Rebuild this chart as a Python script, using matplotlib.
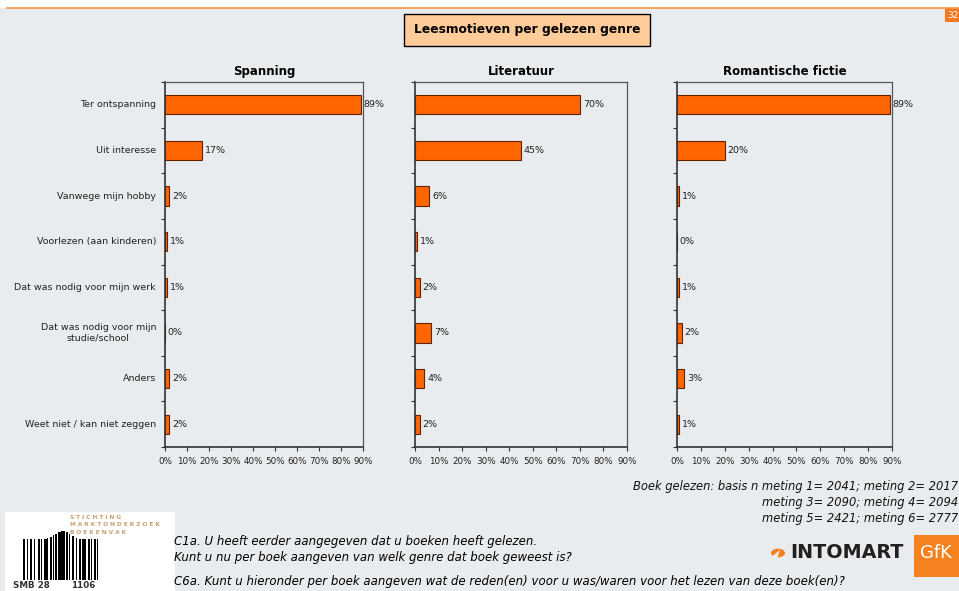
import numpy as np
import matplotlib
matplotlib.use("Agg")
import matplotlib.pyplot as plt
from matplotlib.patches import Rectangle, Circle, Polygon

# reasons for reading, per genre (percentages)
reasons = ["Ter ontspanning", "Uit interesse", "Vanwege mijn hobby",
           "Voorlezen (aan kinderen)", "Dat was nodig voor mijn werk",
           "Dat was nodig voor mijn\nstudie/school", "Anders",
           "Weet niet / kan niet zeggen"]
genres = ["Spanning", "Literatuur", "Romantische fictie"]
spanning = [89, 17, 2, 1, 1, 0, 2, 2]
literatuur = [70, 45, 6, 1, 2, 7, 4, 2]
romantisch = [89, 20, 1, 0, 1, 2, 3, 1]
xticks = [0, 10, 20, 30, 40, 50, 60, 70, 80, 90]

BG = "#E9ECEE"
ORANGE = "#FF6600"

W, H = 959, 591
fig = plt.figure(figsize=(W / 100, H / 100), dpi=100)
fig.patch.set_facecolor(BG)

def fx(px):
    return px / W

def fy(py):
    return 1 - py / H

# white strip with orange rule on top
fig.patches.append(Rectangle((0, fy(8)), 1, 8 / H, transform=fig.transFigure,
                             facecolor="white", edgecolor="none"))
fig.lines.append(plt.Line2D([fx(7), 1], [fy(8), fy(8)], transform=fig.transFigure,
                            color="#F79646", lw=1.2))
fig.patches.append(Rectangle((fx(945), fy(22)), fx(14), 14 / H, transform=fig.transFigure,
                             facecolor="#F47920", edgecolor="none"))
fig.text(fx(947), fy(15), "32", color="white", fontsize=6.5, va="center", ha="left")

# title box
fig.text(fx(527), fy(30), "Leesmotieven per gelezen genre", ha="center", va="center",
         fontsize=8.8, fontweight="bold",
         bbox=dict(boxstyle="square,pad=0.8", facecolor="#FFCC99", edgecolor="black", lw=1))

panels = [(165, 363, spanning), (415, 627, literatuur), (677, 892, romantisch)]
y = np.arange(len(reasons))

for i, (x0, x1, vals) in enumerate(panels):
    ax = fig.add_axes([fx(x0), fy(447), fx(x1 - x0), (447 - 82) / H])
    ax.set_facecolor(BG)
    ax.barh(y, vals, height=0.42, color=ORANGE, edgecolor="#662200", lw=0.8)
    ax.set_xlim(0, 90)
    ax.set_ylim(len(reasons) - 0.52, -0.48)
    ax.set_xticks(xticks)
    ax.set_xticklabels([f"{t}%" for t in xticks], fontsize=6.3, color="#222222")
    ax.set_yticks(np.arange(len(reasons) + 1) - 0.5)
    ax.set_yticklabels([])
    ax.tick_params(axis="y", length=3, width=0.8, color="#333333", direction="out")
    ax.tick_params(axis="x", length=3, width=0.8, color="#333333", direction="out", pad=4)
    for s in ["left", "bottom"]:
        ax.spines[s].set_color("#333333")
        ax.spines[s].set_linewidth(1.2)
    for s in ["top", "right"]:
        ax.spines[s].set_color("#555555")
        ax.spines[s].set_linewidth(0.9)
    for yi, v in zip(y, vals):
        ax.text(v + 1.2, yi, f"{v}%", va="center", ha="left", fontsize=6.8, color="#222222")
    ax.set_title(genres[i], fontsize=8.5, fontweight="bold", pad=5)
    if i == 0:
        for yi, lab in zip(y, reasons):
            ax.text(-0.045, yi, lab, transform=ax.get_yaxis_transform(),
                    ha="right", va="center", fontsize=6.8, color="#222222",
                    multialignment="center")

# sample sizes
foot = ("Boek gelezen: basis n meting 1= 2041; meting 2= 2017\n"
        "meting 3= 2090; meting 4= 2094\n"
        "meting 5= 2421; meting 6= 2777")
fig.text(fx(958), fy(480), foot, ha="right", va="top", fontsize=8.3,
         style="italic", color="#111111", linespacing=1.28)

# question texts
fig.text(fx(174), fy(542), "C1a. U heeft eerder aangegeven dat u boeken heeft gelezen.",
         fontsize=8.5, style="italic", va="center")
fig.text(fx(174), fy(558), "Kunt u nu per boek aangeven van welk genre dat boek geweest is?",
         fontsize=8.5, style="italic", va="center")
fig.text(fx(174), fy(582),
         "C6a. Kunt u hieronder per boek aangeven wat de reden(en) voor u was/waren voor het lezen van deze boek(en)?",
         fontsize=8.5, style="italic", va="center")

# SMB logo
lg = fig.add_axes([fx(5), 0, fx(170), (H - 512) / H])
lg.set_xlim(0, 170)
lg.set_ylim(79, 0)
lg.axis("off")
lg.add_patch(Rectangle((0, 0), 170, 79, facecolor="white", edgecolor="none"))
for k, word in enumerate(["STICHTING", "MARKTONDERZOEK", "BOEKENVAK"]):
    lg.text(65, 5.5 + k * 7.5, " ".join(word), fontsize=4.2, color="#C8A070", va="center",
            ha="left", fontweight="bold")
bar_x = [18, 22, 25, 29, 33, 36, 39, 42, 45, 48, 50, 53, 56, 58, 61, 64, 67, 71, 74, 77, 80, 83, 86, 89, 92]
bar_w = [1.5, 1.2, 2.2, 1.2, 1.8, 1.2, 2.5, 1.2, 2.0, 1.2, 2.0, 3.0, 2.2, 1.5, 2.2, 1.2, 2.0, 1.2, 1.5, 2.5, 1.2, 1.8, 1.2, 2.2, 1.2]
for bx, bw in zip(bar_x, bar_w):
    top = 27 - 8 * np.exp(-((bx - 57) / 10) ** 2)
    lg.add_patch(Rectangle((bx, top), bw, 68 - top, facecolor="black", edgecolor="none"))
lg.text(8, 74, "SMB 28", fontsize=6.3, color="#333333", va="center", fontweight="bold")
lg.text(66, 74, "1106", fontsize=6.3, color="#333333", va="center", fontweight="bold")

# Intomart GfK logo
fig.patches.append(Rectangle((fx(914), fy(577)), fx(45), 42 / H, transform=fig.transFigure,
                             facecolor="#F5821F", edgecolor="none"))
fig.text(fx(936), fy(553), "GfK", color="white", fontsize=13, ha="center", va="center")
fig.text(fx(790), fy(553), "INTOMART", color="#231F20", fontsize=13.8, fontweight="bold",
         ha="left", va="center")
fig.patches.append(Circle((fx(778), fy(553)), 7 / W, transform=fig.transFigure,
                          facecolor="#F5821F", edgecolor="none"))
fig.patches.append(Polygon([(fx(770), fy(558)), (fx(780), fy(550)), (fx(776), fy(562))],
                           transform=fig.transFigure, facecolor=BG, edgecolor="none"))

fig.savefig("out.png", dpi=100, facecolor=BG)
